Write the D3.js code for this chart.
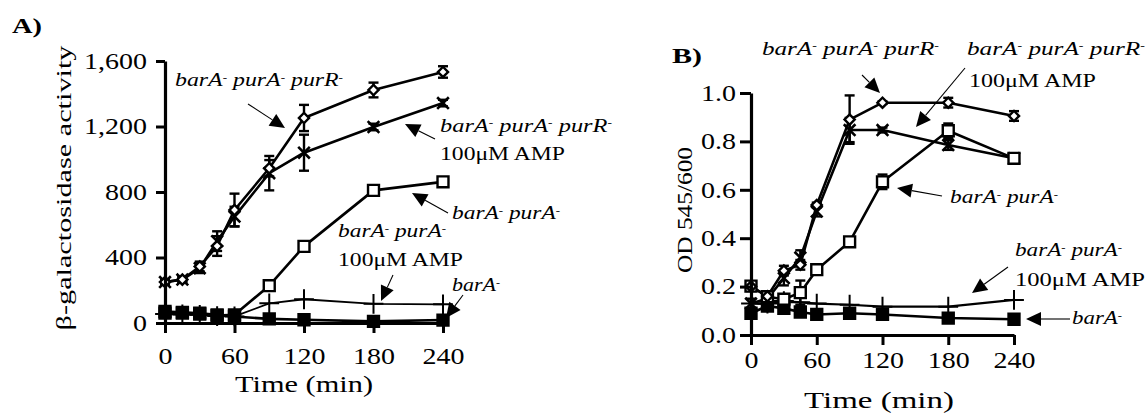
<!DOCTYPE html>
<html>
<head>
<meta charset="utf-8">
<script src="https://cdn.jsdelivr.net/npm/d3@7"></script>
<style>
  body { margin: 0; background: #fff; }
  svg { display: block; }
  text { font-family: "Liberation Serif", Tinos, "Times New Roman", "Nimbus Roman", "DejaVu Serif", serif; fill: #000; }
</style>
</head>
<body>
<div id="chart"></div>
<script>
// Sampling times (min)
const times = [0, 15, 30, 45, 60, 90, 120, 180, 240];
const xTicks = [0, 60, 120, 180, 240];

// Panel A: beta-galactosidase activity
const aTicks = [0, 400, 800, 1200, 1600];
const aTriple = [250, 265, 345, 470, 690, 945, 1252, 1423, 1533];
const aTripleErr = [15, 15, 30, 60, 100, 50, 80, 45, 35];
const aTripleAmp = [250, 265, 335, 500, 650, 915, 1040, 1197, 1343];
const aTripleAmpErr = [15, 15, 30, 60, 60, 105, 110, 20, 20];
const aDouble = [60, 60, 55, 45, 50, 228, 468, 810, 862];
const aDoubleErr = [10, 10, 10, 10, 10, 15, 15, 15, 15];
const aDoubleAmp = [55, 52, 50, 42, 40, 120, 145, 117, 114];
const aBarA = [70, 65, 60, 50, 40, 25, 20, 10, 18];

// Panel B: OD 545/600
const bTicks = [0, 0.2, 0.4, 0.6, 0.8, 1.0];
const bTriple = [0.20, 0.16, 0.266, 0.29, 0.537, 0.89, 0.96, 0.96, 0.905];
const bTripleErr = [0.01, 0.01, 0.02, 0.02, 0.01, 0.10, 0.005, 0.02, 0.02];
const bTripleAmp = [0.13, 0.15, 0.235, 0.32, 0.51, 0.847, 0.847, 0.785, 0.73];
const bTripleAmpErr = [0.02, 0.01, 0.03, 0.03, 0.02, 0.05, 0.01, 0.02, 0.01];
const bDouble = [0.202, 0.158, 0.148, 0.175, 0.27, 0.385, 0.633, 0.844, 0.73];
const bDoubleErr = [0.02, 0.01, 0.01, 0.05, 0.01, 0.01, 0.03, 0.03, 0.02];
const bDoubleAmp = [0.13, 0.13, 0.14, 0.135, 0.13, 0.125, 0.117, 0.117, 0.145];
const bBarA = [0.09, 0.12, 0.11, 0.095, 0.085, 0.09, 0.085, 0.07, 0.065];

const W = 1148, H = 414;
const TICK_FONT = 23;

const svg = d3.select("#chart").append("svg")
    .attr("width", W).attr("height", H);

// text with superscript parts, squeezed/stretched to width w
function label(x, y, parts, o = {}) {
    const t = svg.append("text")
        .attr("text-anchor", o.anchor || "start")
        .style("font-size", (o.size || 19) + "px")
        .style("font-style", o.italic ? "italic" : "normal")
        .style("font-weight", o.bold ? "bold" : "normal");
    parts.forEach(p => {
        if (typeof p === "string") t.append("tspan").text(p);
        else t.append("tspan").attr("baseline-shift", "super").style("font-size", "0.55em").text(p.sup);
    });
    const sx = o.w ? o.w / t.node().getComputedTextLength() : 1;
    t.attr("transform", `translate(${x},${y}) ${o.rot ? `rotate(${o.rot})` : ""} scale(${sx},1)`);
    return t;
}

function arrow(x1, y1, x2, y2) {
    const len = 15, half = 7;
    const a = Math.atan2(y2 - y1, x2 - x1);
    const bx = x2 - len * Math.cos(a), by = y2 - len * Math.sin(a);
    svg.append("line")
        .attr("x1", x1).attr("y1", y1).attr("x2", bx).attr("y2", by)
        .attr("stroke", "#000").attr("stroke-width", 1.1);
    const px = -Math.sin(a) * half, py = Math.cos(a) * half;
    svg.append("path")
        .attr("d", `M${x2},${y2}L${bx + px},${by + py}L${bx - px},${by - py}Z`)
        .attr("fill", "#000");
}

// width scale for tick numbers: "120" should be ~42px wide
const probe = svg.append("text").style("font-size", TICK_FONT + "px").text("120");
const tickSX = 42 / probe.node().getComputedTextLength();
probe.remove();

const minus = { sup: "-" };
const triple = ["barA", minus, " purA", minus, " purR", minus];
const double = ["barA", minus, " purA", minus];

const diamond = d3.symbol().type(d3.symbolSquare).size(52);

function drawPanel(p) {
    const x = d3.scaleLinear().domain([0, 240]).range(p.xr);
    const y = d3.scaleLinear().domain(p.yd).range(p.yr);
    const g = svg.append("g");

    const line = d3.line().x((d, i) => x(times[i])).y(d => y(d));

    p.series.forEach(s => {
        g.append("path").datum(s.values)
            .attr("d", line)
            .attr("fill", "none").attr("stroke", "#000")
            .attr("stroke-width", s.lw || 2.6)
            .attr("stroke-linejoin", "round");
    });

    p.series.forEach(s => {
        if (!s.err) return;
        const eb = g.append("g").attr("stroke", "#000").attr("stroke-width", 2.4);
        s.values.forEach((v, i) => {
            const e = s.err[i];
            const cx = x(times[i]), t = y(v + e), b = y(v - e);
            eb.append("line").attr("x1", cx).attr("x2", cx).attr("y1", t).attr("y2", b);
            eb.append("line").attr("x1", cx - 5).attr("x2", cx + 5).attr("y1", t).attr("y2", t);
            eb.append("line").attr("x1", cx - 5).attr("x2", cx + 5).attr("y1", b).attr("y2", b);
        });
    });

    p.series.forEach(s => {
        const sym = s.diamond ? diamond : d3.symbol().type(s.type).size(s.size);
        g.append("g").selectAll("path")
            .data(s.values)
            .enter().append("path")
            .attr("transform", (d, i) => `translate(${x(times[i])},${y(d)})` + (s.diamond ? " rotate(45)" : ""))
            .attr("d", sym)
            .attr("fill", s.fill)
            .attr("stroke", "#000")
            .attr("stroke-width", s.sw || 2.4);
    });

    // axes
    const ax = g.append("g").attr("transform", `translate(0,${p.yr[0]})`)
        .call(d3.axisBottom(x).tickValues(xTicks).tickSize(10).tickSizeOuter(0).tickPadding(p.xPad));
    const ay = g.append("g").attr("transform", `translate(${p.xr[0]},0)`)
        .call(d3.axisLeft(y).tickValues(p.ticks).tickSize(p.yTick).tickSizeOuter(0)
            .tickPadding(p.yPad).tickFormat(p.fmt));
    [ax, ay].forEach(a => {
        a.attr("font-family", null);
        a.select(".domain").attr("stroke-width", 3.2);
        a.selectAll(".tick line").attr("stroke-width", 3);
        a.selectAll(".tick text").style("font-size", TICK_FONT + "px");
    });
    ax.selectAll(".tick text").attr("transform", `scale(${tickSX},1)`);
    ay.selectAll(".tick text")
        .attr("x", -p.yLab / tickSX)
        .attr("transform", `scale(${tickSX},1)`);
}

const sqOpen = s => ({ type: d3.symbolSquare, size: 120, fill: "#fff", ...s });
const sqFill = s => ({ type: d3.symbolSquare, size: 120, fill: "#000", ...s });
const plus = s => ({ type: d3.symbolPlus, size: 130, fill: "none", sw: 2, ...s });
const times_ = s => ({ type: d3.symbolTimes, size: 90, fill: "none", sw: 2.6, ...s });
const dia = s => ({ diamond: true, fill: "#fff", ...s });

// series listed bottom to top
drawPanel({
    xr: [165, 443], yr: [323, 61], yd: [0, 1600],
    ticks: aTicks, fmt: d3.format(","), xPad: 15, yTick: 9, yLab: 18,
    series: [
        sqOpen({ values: aDouble, err: aDoubleErr }),
        plus({ values: aDoubleAmp, lw: 1.8 }),
        sqFill({ values: aBarA }),
        times_({ values: aTripleAmp, err: aTripleAmpErr }),
        dia({ values: aTriple, err: aTripleErr })
    ]
});

drawPanel({
    xr: [751, 1014], yr: [335, 93], yd: [0, 1],
    ticks: bTicks, fmt: d3.format(".1f"), xPad: 7, yTick: 11, yLab: 15,
    series: [
        sqFill({ values: bBarA }),
        plus({ values: bDoubleAmp, lw: 2.2 }),
        times_({ values: bTripleAmp, err: bTripleAmpErr }),
        sqOpen({ values: bDouble, err: bDoubleErr }),
        dia({ values: bTriple, err: bTripleErr })
    ]
});

// panel letters and axis titles
label(12, 33, ["A)"], { size: 21, bold: true, w: 30 });
label(672, 63, ["B)"], { size: 21, bold: true, w: 30 });
label(71, 188, ["β-galactosidase activity"], { size: 22, anchor: "middle", rot: -90, w: 285 });
label(692, 210, ["OD 545/600"], { size: 22, anchor: "middle", rot: -90, w: 126 });
label(304, 392, ["Time (min)"], { size: 24, anchor: "middle", w: 138 });
label(879, 408, ["Time (min)"], { size: 24, anchor: "middle", w: 150 });

// panel A annotations
label(175, 86, triple, { italic: true, size: 18, w: 168 });
arrow(248, 104, 285, 128);
label(440, 132, triple, { italic: true, size: 18, w: 172 });
label(440, 160, ["100μM AMP"], { size: 19, w: 125 });
arrow(435, 139, 405, 124);
label(452, 219, double, { italic: true, size: 18, w: 108 });
arrow(448, 213, 412, 193);
label(338, 237, double, { italic: true, size: 18, w: 108 });
label(338, 266, ["100μM AMP"], { size: 19, w: 125 });
arrow(393, 275, 381, 301);
label(452, 291, ["barA", minus], { italic: true, size: 18, w: 48 });
arrow(463, 295, 446, 318);

// panel B annotations
label(762, 55, triple, { italic: true, size: 18, w: 177 });
arrow(862, 75, 880, 93);
label(967, 55, triple, { italic: true, size: 18, w: 178 });
label(969, 87, ["100μM AMP"], { size: 19, w: 127 });
arrow(965, 68, 916, 127);
label(950, 203, double, { italic: true, size: 18, w: 108 });
arrow(942, 196, 897, 188);
label(1015, 256, double, { italic: true, size: 18, w: 107 });
label(1015, 286, ["100μM AMP"], { size: 19, w: 130 });
arrow(1008, 267, 972, 293);
label(1072, 324, ["barA", minus], { italic: true, size: 18, w: 50 });
arrow(1070, 319, 1026, 319);
</script>
</body>
</html>
